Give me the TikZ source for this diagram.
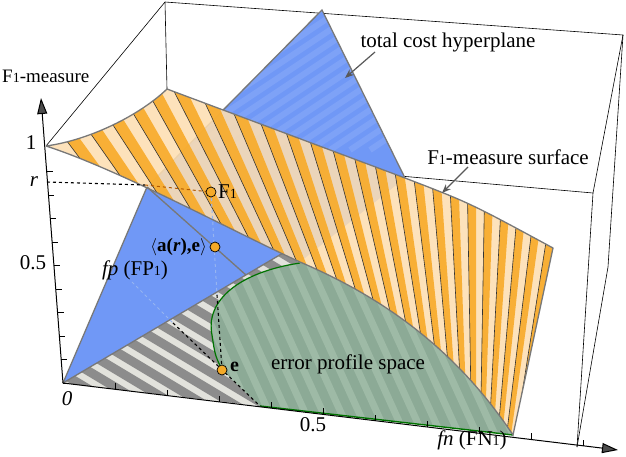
\documentclass[tikz,border=0pt]{standalone}
\usepackage{fontspec}
\setmainfont{Liberation Serif}
\usetikzlibrary{arrows.meta}
\definecolor{blueP}{RGB}{112,152,246}
\definecolor{orD}{RGB}{248,170,40}
\definecolor{orL}{RGB}{253,222,178}
\definecolor{edgeG}{RGB}{120,120,120}
\definecolor{grnF}{RGB}{140,170,150}
\definecolor{grnL}{RGB}{158,186,166}
\definecolor{gryD}{RGB}{140,140,140}
\definecolor{gryL}{RGB}{226,226,220}
\definecolor{dotO}{RGB}{245,170,40}
\definecolor{lblue}{RGB}{150,180,240}
\begin{document}
\begin{tikzpicture}[x=1pt,y=-1pt,
  boxline/.style={black,line width=0.6pt},
  edge/.style={edgeG,line width=1.3pt},
  axisline/.style={black,line width=1pt,-{Triangle[length=16pt,width=10pt,fill=gray!60!black]}},
  lbl/.style={font=\fontsize{21}{24}\selectfont,inner sep=1pt},
  dotn/.style={circle,draw=black,fill=dotO,inner sep=0pt,minimum size=10pt,line width=0.7pt},
  blkdash/.style={black,dashed,line width=1.1pt},
  ltdash/.style={lblue,dashed,line width=1pt},
  callout/.style={gray!70!black,line width=1.2pt,-{Stealth[length=9pt,width=7pt]}}]
\useasboundingbox (0,0) rectangle (626,456);
% back box lines
\draw[boxline] (46,146) -- (165,2) -- (623,35) -- (593,193) -- (577,447);
\draw[boxline] (165,2) -- (167,89);
\draw[boxline] (623,35) -- (608,267) -- (577,447);
\draw[boxline] (400,176) -- (593,193);
% ground gray striped region
\begin{scope}
\clip (63,383) -- (283,253) -- (300,263) .. controls (240,272) and (205,300) .. (212,335) .. controls (215,355) .. (222,370) -- (260,406) -- cycle;
\fill[gryL] (0,200) rectangle (320,420);
\foreach \i in {-20,...,20} \draw[gryD,line width=9pt] (\i*30+100,180) -- ++(400,240);
\end{scope}
% green region
\begin{scope}
\clip (300,263) .. controls (240,272) and (205,300) .. (212,335) .. controls (215,355) .. (222,370) -- (260,406) -- (513,435) .. controls (450,340) and (370,292) .. (300,262) -- cycle;
\fill[grnF] (200,240) rectangle (520,440);
\foreach \i in {-20,...,30} \draw[grnL,line width=7pt] (\i*18+150,230) -- ++(100,220);
\end{scope}
\draw[green!45!black,line width=1.2pt] (300,263) .. controls (240,272) and (205,300) .. (212,335) .. controls (215,355) .. (222,370);
\draw[green!45!black,line width=1.4pt] (260,406) -- (513,435);
% blue plane
\fill[blueP] (63,383) -- (147,187) -- (322,10) -- (405,178) -- (300,262) -- (283,253) -- cycle;
\begin{scope}
\clip (63,383) -- (147,187) -- (322,10) -- (405,178) -- (300,262) -- (283,253) -- cycle;
\foreach \i in {-30,...,30} \draw[blueP!90!white,line width=6pt] (\i*20+150,150) -- ++(300,-200);
\end{scope}
\draw[edge] (63,383) -- (147,187) -- (322,10) -- (405,178);
\draw[edge] (63,383) -- (283,253);
% orange surface
\def\orpath{(46,146) .. controls (90,140) and (140,115) .. (167,89) -- (405,178) .. controls (470,203) .. (553,248) -- (513,435) .. controls (450,340) and (370,292) .. (300,262) .. controls (230,230) and (120,170) .. (46,146)}
\begin{scope}
\clip \orpath;
\fill[orL,fill opacity=0.88] (40,80) rectangle (560,440);
\foreach \k in {0,...,23} {
  \pgfmathsetmacro{\a}{-127+\k*2.0}
  \fill[orD,fill opacity=0.9] (476,684) -- +(\a:900) -- +(\a+1.0:900) -- cycle;
  \draw[black!80,line width=0.6pt] (476,684) -- +(\a:900);
}
\end{scope}
\draw[edge] \orpath;
% gray line in blue plane
\draw[edge] (147,187) -- (246,275);
% dashed lines
\draw[blkdash] (47,182) -- (145,185);
\draw[ltdash,orange!70!black] (145,185) -- (211,192);
\draw[ltdash] (211,192) -- (217,295);
\draw[blkdash] (217,295) -- (222,370);
\draw[ltdash] (132,282) -- (173,323);
\draw[blkdash] (173,323) -- (260,406);
% axes
\draw[axisline] (63,383) -- (41,98);
\draw[axisline] (63,383) -- (618,450);
\foreach \t in {0,...,9} {
  \pgfmathsetmacro{\yy}{383-23.5*\t}
  \pgfmathsetmacro{\xx}{63-0.0772*(383-\yy)}
  \draw[black,line width=0.7pt] (\xx,\yy) -- ++(6,0);
}
\foreach \t in {1,...,10} {
  \pgfmathsetmacro{\xx}{63+52*\t}
  \pgfmathsetmacro{\yy}{383+0.1207*(\xx-63)}
  \draw[black,line width=0.7pt] (\xx,\yy) -- ++(0,-6);
}
% dots
\node[dotn] (f1) at (211,192) {};
\node[dotn] (ae) at (215,247) {};
\node[dotn] (e) at (222,370) {};
% labels
\newcommand{\sone}{{\fontsize{14}{14}\selectfont 1}}
\node[lbl,anchor=west,font=\fontsize{19}{22}\selectfont] (ylab) at (1,76) {F\sone-measure};
\node[lbl] (one) at (31,143) {1};
\node[lbl] (rl) at (34,182) {\textit{r}};
\node[lbl] (half) at (33,263) {0.5};
\node[lbl] (fpl) at (135,270) {\textit{fp} (FP\sone)};
\node[lbl] (zero) at (67,399) {\textit{0}};
\node[lbl] (half2) at (313,425) {0.5};
\node[lbl] (fnl) at (472,440) {\textit{fn} (FN\sone)};
\node[lbl,anchor=west] (f1l) at (217,192) {F\sone};
\node[lbl,anchor=east,font=\fontsize{19}{22}\selectfont\bfseries] (ael) at (208,247) {$\langle$a(\textit{r}),e$\rangle$};
\node[lbl,anchor=west,font=\fontsize{20}{22}\selectfont\bfseries] (el) at (229,367) {e};
\node[lbl] (eps) at (348,364) {error profile space};
\node[lbl] (tch) at (448,42) {total cost hyperplane};
\node[lbl] (fms) at (508,157) {F\sone-measure surface};
\coordinate (tchp) at (345,78);
\coordinate (fmsp) at (442,193);
\draw[callout] (375,52) -- (tchp);
\draw[callout] (468,167) -- (fmsp);
\end{tikzpicture}
\end{document}
